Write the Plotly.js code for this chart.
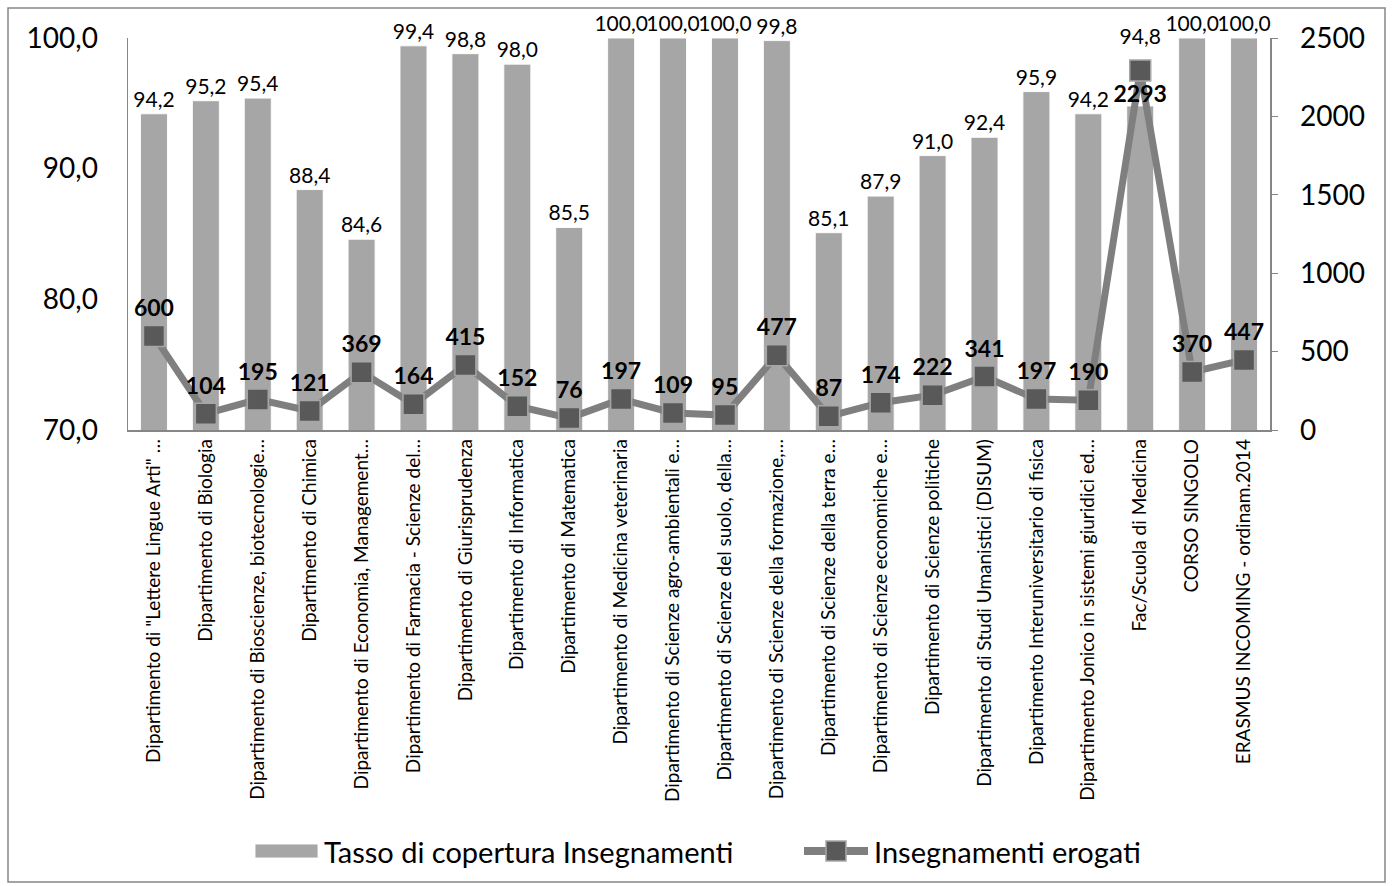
<!DOCTYPE html>
<html>
<head>
<meta charset="utf-8">
<script src="https://cdn.plot.ly/plotly-3.0.1.min.js"></script>
<style>
html,body{margin:0;padding:0;background:#fff;}
#chart{width:1392px;height:886px;}
</style>
</head>
<body>
<div id="chart"></div>
<script>
var categories = [
  'Dipartimento di "Lettere Lingue Arti" …',
  'Dipartimento di Biologia',
  'Dipartimento di Bioscienze, biotecnologie…',
  'Dipartimento di Chimica',
  'Dipartimento di Economia, Management…',
  'Dipartimento di Farmacia - Scienze del…',
  'Dipartimento di Giurisprudenza',
  'Dipartimento di Informatica',
  'Dipartimento di Matematica',
  'Dipartimento di Medicina veterinaria',
  'Dipartimento di Scienze agro-ambientali e…',
  'Dipartimento di Scienze del suolo, della…',
  'Dipartimento di Scienze della formazione,…',
  'Dipartimento di Scienze della terra e…',
  'Dipartimento di Scienze economiche e…',
  'Dipartimento di Scienze politiche',
  'Dipartimento di Studi Umanistici (DISUM)',
  'Dipartimento Interuniversitario di fisica',
  'Dipartimento Jonico in sistemi giuridici ed…',
  'Fac/Scuola di Medicina',
  'CORSO SINGOLO',
  'ERASMUS INCOMING - ordinam.2014'
];
var tassoCopertura = [94.2, 95.2, 95.4, 88.4, 84.6, 99.4, 98.8, 98.0, 85.5, 100.0, 100.0, 100.0, 99.8, 85.1, 87.9, 91.0, 92.4, 95.9, 94.2, 94.8, 100.0, 100.0];
var insegnamentiErogati = [600, 104, 195, 121, 369, 164, 415, 152, 76, 197, 109, 95, 477, 87, 174, 222, 341, 197, 190, 2293, 370, 447];
var leftTicks = [70, 80, 90, 100];
var rightTicks = [0, 500, 1000, 1500, 2000, 2500];
var seriesNames = ['Tasso di copertura Insegnamenti', 'Insegnamenti erogati'];

var FONT = 'Lato, "Open Sans", sans-serif';

// plot area in pixels: x 128..1270, y 38..430
function px(x){ return (x - 128) / 1142; }
function py(y){ return (430 - y) / 392; }

var barText = tassoCopertura.map(function(v, i){
  var s = v.toFixed(1).replace('.', ',');
  // in the reference this label sits above the tall line marker
  return insegnamentiErogati[i] > 2000 ? s + '<br>&nbsp;<br>&nbsp;' : s;
});
var lineText = insegnamentiErogati.map(String);
var linePos = insegnamentiErogati.map(function(v){ return v > 2000 ? 'bottom center' : 'top center'; });

var traces = [
  {
    type: 'bar',
    name: seriesNames[0],
    x: categories,
    y: tassoCopertura,
    text: barText,
    textposition: 'outside',
    constraintext: 'none',
    cliponaxis: false,
    textfont: {family: FONT, size: 21, color: '#000'},
    marker: {color: '#a6a6a6', line: {color: 'rgba(255,255,255,0.9)', width: 1}},
    width: 0.52,
    showlegend: false
  },
  {
    type: 'scatter',
    mode: 'lines+markers+text',
    name: seriesNames[1],
    x: categories,
    y: insegnamentiErogati,
    yaxis: 'y2',
    text: lineText,
    textposition: linePos,
    cliponaxis: false,
    textfont: {family: FONT, size: 23, color: '#000', weight: 'bold'},
    line: {color: '#7f7f7f', width: 7},
    marker: {symbol: 'square', size: 21, color: '#595959', line: {color: '#a6a6a6', width: 1.5}},
    showlegend: false
  }
];

var legendY = 851;
var layout = {
  width: 1392,
  height: 886,
  separators: ',.',
  paper_bgcolor: '#fff',
  plot_bgcolor: '#fff',
  margin: {l: 128, r: 122, t: 38, b: 456, pad: 0},
  showlegend: false,
  xaxis: {
    type: 'category',
    range: [-0.5, categories.length - 0.5],
    tickangle: -90,
    tickfont: {family: FONT, size: 19, color: '#000'},
    showline: true, linecolor: '#868686', linewidth: 1.5,
    ticks: '', showgrid: false, zeroline: false,
    automargin: false
  },
  yaxis: {
    range: [70, 100],
    tickvals: leftTicks,
    tickformat: '.1f',
    tickfont: {family: FONT, size: 28, color: '#000'},
    showline: true, linecolor: '#868686', linewidth: 1.5,
    ticks: '', showgrid: false, zeroline: false,
    ticklabelstandoff: 23,
    automargin: false
  },
  yaxis2: {
    overlaying: 'y',
    side: 'right',
    range: [0, 2500],
    tickvals: rightTicks,
    tickformat: 'd',
    tickfont: {family: FONT, size: 28, color: '#000'},
    showline: true, linecolor: '#868686', linewidth: 1.5,
    ticks: 'outside', ticklen: 6, tickcolor: '#868686',
    showgrid: false, zeroline: false,
    ticklabelstandoff: 17,
    automargin: false
  },
  shapes: [
    {
      type: 'rect', xref: 'paper', yref: 'paper',
      x0: px(8), x1: px(1385), y0: py(882), y1: py(8),
      line: {color: '#868686', width: 1.5},
      fillcolor: 'rgba(0,0,0,0)', layer: 'below'
    },
    // legend: bar swatch
    {
      type: 'rect', xref: 'paper', yref: 'paper',
      x0: px(255), x1: px(318), y0: py(legendY + 7), y1: py(legendY - 7),
      line: {color: 'rgba(255,255,255,0.9)', width: 1}, fillcolor: '#a6a6a6'
    },
    // legend: line swatch
    {
      type: 'line', xref: 'paper', yref: 'paper',
      x0: px(804), x1: px(868), y0: py(legendY), y1: py(legendY),
      line: {color: '#7f7f7f', width: 8}
    },
    {
      type: 'rect', xref: 'paper', yref: 'paper',
      x0: px(826), x1: px(846), y0: py(legendY + 10), y1: py(legendY - 10),
      line: {color: '#a6a6a6', width: 1.5}, fillcolor: '#595959'
    }
  ],
  annotations: [
    {
      xref: 'paper', yref: 'paper', x: px(322), y: py(legendY),
      xanchor: 'left', yanchor: 'middle', showarrow: false,
      text: seriesNames[0], font: {family: FONT, size: 29, color: '#000'}
    },
    {
      xref: 'paper', yref: 'paper', x: px(872), y: py(legendY),
      xanchor: 'left', yanchor: 'middle', showarrow: false,
      text: seriesNames[1], font: {family: FONT, size: 29, color: '#000'}
    }
  ]
};

Plotly.newPlot('chart', traces, layout, {displayModeBar: false, staticPlot: true});
</script>
</body>
</html>
